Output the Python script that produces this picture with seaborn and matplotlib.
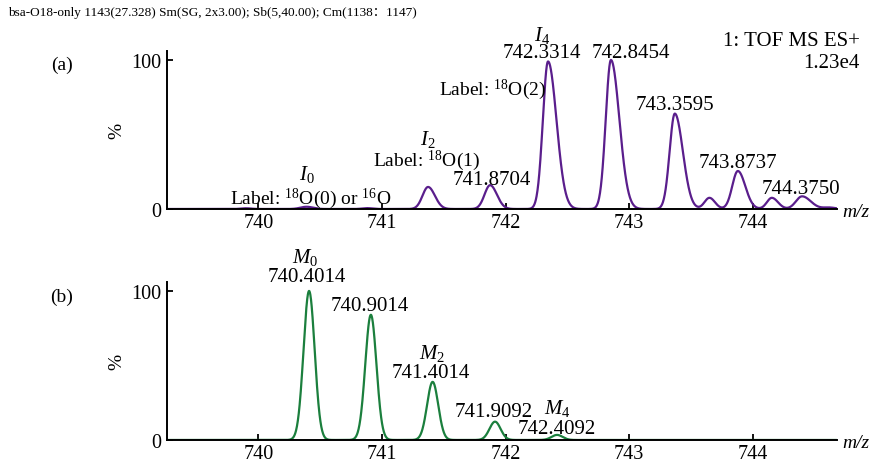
import numpy as np
import pandas as pd
import matplotlib
matplotlib.use('Agg')
import matplotlib.pyplot as plt
import seaborn as sns

# ピーク情報
# (a) 18O 標識サンプル
peak_mz_a = [739.90, 740.39, 740.88, 741.373, 741.875, 742.344, 742.853, 743.37, 743.65, 743.88, 744.155, 744.40, 744.62]
peak_int_a = [0.5, 1.5, 0.6, 14.8, 16.0, 99.0, 100.0, 64.0, 7.5, 25.5, 7.5, 8.5, 1.0]
sig_left_a = [0.04, 0.05, 0.04, 0.045, 0.045, 0.042, 0.042, 0.042, 0.04, 0.045, 0.04, 0.05, 0.05]
sig_right_a = [0.04, 0.05, 0.04, 0.055, 0.055, 0.068, 0.068, 0.065, 0.045, 0.06, 0.05, 0.07, 0.05]

# (b) 理論同位体分布
peak_mz_b = [740.41, 740.91, 741.41, 741.915, 742.417]
peak_int_b = [100.0, 84.0, 39.0, 12.3, 3.4]
sig_b = [0.045, 0.045, 0.045, 0.045, 0.045]

# ラベル
labels_a = ['742.3314', '742.8454', '743.3595', '743.8737', '744.3750', '741.8704']
labels_a_x = [742.29, 743.015, 743.37, 743.88, 744.39, 741.89]
labels_a_y = [105.3, 105.3, 70.4, 31.3, 13.9, 19.8]
labels_b = ['740.4014', '740.9014', '741.4014', '741.9092', '742.4092']
labels_b_x = [740.394, 740.904, 741.397, 741.907, 742.417]
labels_b_y = [109.4, 89.9, 45.6, 18.8, 7.4]

xticks = [740, 741, 742, 743, 744]
yticks = [0, 100]

sns.set_theme(style='ticks')
plt.rcParams['font.family'] = ['Liberation Serif', 'Noto Sans CJK SC', 'DejaVu Sans']
plt.rcParams['mathtext.fontset'] = 'custom'
plt.rcParams['mathtext.rm'] = 'Liberation Serif'
plt.rcParams['mathtext.it'] = 'Liberation Serif:italic'
plt.rcParams['axes.linewidth'] = 1.4
plt.rcParams['text.color'] = 'black'
plt.rcParams['axes.labelcolor'] = 'black'
plt.rcParams['axes.edgecolor'] = 'black'

mz = np.linspace(739.26, 744.68, 3000)


def profile(centers, heights, sl, sr):
    y = np.zeros_like(mz)
    for c, h, a, b in zip(centers, heights, sl, sr):
        s = np.where(mz < c, a, b)
        y += h * np.exp(-0.5 * ((mz - c) / s) ** 2)
    return y


df_a = pd.DataFrame({'mz': mz, 'int': profile(peak_mz_a, peak_int_a, sig_left_a, sig_right_a)})
df_b = pd.DataFrame({'mz': mz, 'int': profile(peak_mz_b, peak_int_b, sig_b, sig_b)})

fig = plt.figure(figsize=(8.72, 4.64), dpi=100)
ax1 = fig.add_axes([0.1915, 0.5474, 0.768, 0.3405])
ax2 = fig.add_axes([0.1915, 0.0496, 0.768, 0.3405])

sns.lineplot(data=df_a, x='mz', y='int', ax=ax1, color='#5a1e8c', lw=1.6)
sns.lineplot(data=df_b, x='mz', y='int', ax=ax2, color='#1b7f3d', lw=1.6)

for ax in (ax1, ax2):
    ax.set_xlim(739.26, 744.68)
    ax.set_ylim(0, 106)
    ax.set_xticks(xticks)
    ax.set_yticks(yticks)
    ax.tick_params(direction='in', length=4.5, width=1.3, labelsize=14.5,
                   colors='black', labelcolor='black')
    ax.tick_params(axis='x', pad=3)
    ax.tick_params(axis='y', pad=4)
    ax.set_xlabel('')
    ax.set_ylabel('%', fontsize=14, labelpad=4, color='black')
    sns.despine(ax=ax)
    ax.annotate('m/z', xy=(1, 0), xycoords='axes fraction', xytext=(4, -2),
                textcoords='offset points', ha='left', va='center',
                style='italic', fontsize=14, color='black')

# (a) のラベル
for t, x, y in zip(labels_a, labels_a_x, labels_a_y):
    ax1.text(x, y, t, ha='center', va='center', fontsize=15, clip_on=False)
ax1.text(740.394, 23.5, r'$I_0$', ha='center', va='center', fontsize=15)
ax1.text(740.426, 7.4, r'Label: $^{18}$O(0) or $^{16}$O', ha='center', va='center', fontsize=14)
ax1.text(741.372, 47.5, r'$I_2$', ha='center', va='center', fontsize=15)
ax1.text(741.36, 33.2, r'Label: $^{18}$O(1)', ha='center', va='center', fontsize=14)
ax1.text(742.294, 117.4, r'$I_4$', ha='center', va='center', fontsize=15, clip_on=False)
ax1.text(741.891, 80.5, r'Label: $^{18}$O(2)', ha='center', va='center', fontsize=14)

# (b) のラベル
for t, x, y in zip(labels_b, labels_b_x, labels_b_y):
    ax2.text(x, y, t, ha='center', va='center', fontsize=15, clip_on=False)
ax2.text(740.378, 122.8, r'$M_0$', ha='center', va='center', fontsize=15, clip_on=False)
ax2.text(741.405, 59.0, r'$M_2$', ha='center', va='center', fontsize=15)
ax2.text(742.417, 22.1, r'$M_4$', ha='center', va='center', fontsize=15)

fig.text(0.0092, 0.972, 'bsa-O18-only 1143(27.328) Sm(SG, 2x3.00); Sb(5,40.00); Cm(1138：1147)',
         ha='left', va='center', fontsize=9.5)
fig.text(0.9862, 0.9095, '1: TOF MS ES+', ha='right', va='center', fontsize=15)
fig.text(0.9862, 0.864, '1.23e4', ha='right', va='center', fontsize=15)
fig.text(0.0711, 0.860, '(a)', ha='center', va='center', fontsize=14)
fig.text(0.0711, 0.360, '(b)', ha='center', va='center', fontsize=14)

fig.savefig('out.png', dpi=100)
